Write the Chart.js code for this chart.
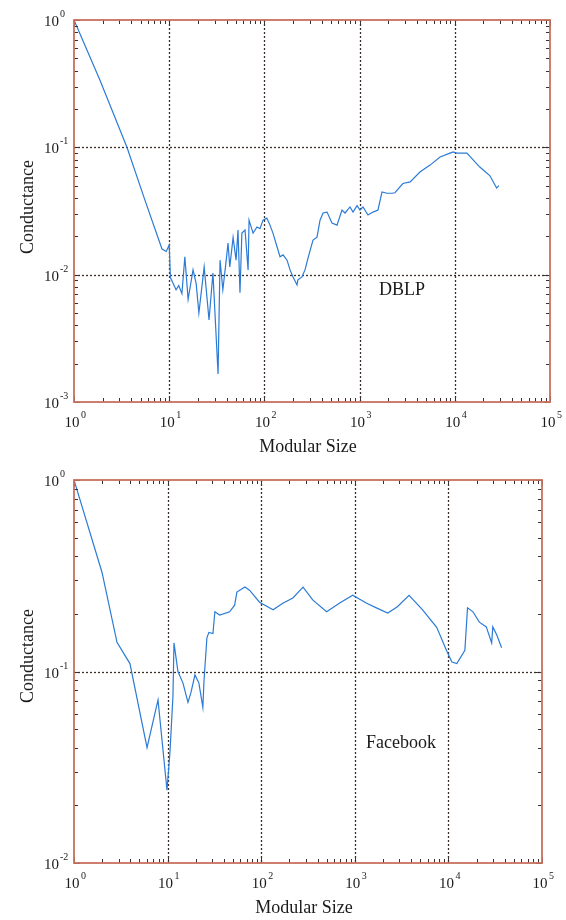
<!DOCTYPE html>
<html>
<head>
<meta charset="utf-8">
<script src="https://cdn.jsdelivr.net/npm/chart.js@4"></script>
<style>
html,body{margin:0;padding:0;background:#fff;}
#wrap{position:relative;width:566px;height:920px;}
.box{position:absolute;left:0;width:566px;height:460px;}
</style>
</head>
<body>
<div id="wrap">
<div class="box" style="top:0"><canvas id="c1" width="566" height="460"></canvas></div>
<div class="box" style="top:460px"><canvas id="c2" width="566" height="460"></canvas></div>
</div>
<script>
// ---- data ----
const dblpX = [
  1, 1.87, 3.6, 5.56, 8.4, 9.3, 10, 10.3, 11.8, 12.6,
  13.6, 14.6, 15.8, 17.8, 19.2, 20.5, 23.3, 26.2, 28.8, 32.6,
  34.2, 36.6, 39, 41.5, 43.3, 46.9, 50.4, 52.8, 55.4, 58,
  62.6, 67.4, 69, 76, 83.6, 89.8, 96.7, 106, 114.5, 123,
  136, 146, 157, 173, 186, 200, 220, 225, 248, 267,
  287, 324, 357, 384, 413, 455, 513, 579, 653, 703,
  793, 853, 940, 1010, 1086, 1225, 1383, 1560, 1718, 1940,
  2190, 2350, 2850, 3400, 4300, 5500, 7000, 8900, 9600, 10500,
  13400, 18300, 23300, 27500, 29000];
const dblpY = [
  1, 0.338, 0.1, 0.0385, 0.0159, 0.0152, 0.0171, 0.0095, 0.0076, 0.0082,
  0.0071, 0.0138, 0.0064, 0.0109, 0.0085, 0.005, 0.0115, 0.0044, 0.0103, 0.00166,
  0.013, 0.0076, 0.0115, 0.0177, 0.0115, 0.0196, 0.013, 0.0224, 0.0072, 0.0212,
  0.0224, 0.0109, 0.0268, 0.0212, 0.0237, 0.023, 0.0268, 0.0278, 0.0245, 0.0212,
  0.0165, 0.0138, 0.0143, 0.013, 0.0109, 0.0096, 0.0083, 0.0091, 0.0096, 0.0109,
  0.0135, 0.0187, 0.0197, 0.0268, 0.0305, 0.031, 0.0254, 0.0245, 0.0322, 0.0305,
  0.034, 0.031, 0.0348, 0.0322, 0.034, 0.0294, 0.031, 0.0322, 0.0446, 0.0436,
  0.0436, 0.044, 0.052, 0.0535, 0.064, 0.0725, 0.084, 0.09, 0.092, 0.09,
  0.09, 0.07, 0.06, 0.048, 0.05];

const fbX = [1, 1.99, 2.88, 3.96, 6.03, 7.9, 9.85, 10.6, 11.4, 11.7, 12.9, 14.6, 16.5, 17.8, 19.6, 21.6, 23.8, 24.5, 26.3, 27.6, 30.5, 32, 36, 46, 52, 55, 67, 75, 96, 134, 170, 218, 280, 357, 500, 690, 950, 1340, 1700, 2250, 2850, 3800, 5300, 7500, 9600, 10900, 12300, 15000, 16000, 18300, 21400, 25400, 29000, 29800, 32900, 37000];
const fbY = [1, 0.33, 0.142, 0.110, 0.040, 0.071, 0.024, 0.038, 0.074, 0.141, 0.10, 0.087, 0.069, 0.078, 0.096, 0.087, 0.065, 0.09, 0.15, 0.16, 0.158, 0.205, 0.197, 0.205, 0.222, 0.26, 0.276, 0.266, 0.23, 0.21, 0.227, 0.242, 0.276, 0.236, 0.205, 0.228, 0.25, 0.227, 0.215, 0.202, 0.218, 0.25, 0.21, 0.17, 0.128, 0.112, 0.110, 0.129, 0.215, 0.205, 0.181, 0.171, 0.141, 0.171, 0.155, 0.133];

const xDecades = [0, 1, 2, 3, 4, 5];
const dblpYDecades = [-3, -2, -1, 0];
const fbYDecades = [-2, -1, 0];
const xTitle = 'Modular Size';
const yTitle = 'Conductance';

const SERIF = '"Liberation Serif", "DejaVu Serif", serif';

function makePlugin(yDecs, label, labelPos, yTitleCenter) {
  return {
    id: 'frame',
    beforeDatasetsDraw(chart) {
      const {ctx, chartArea: a, scales: {x, y}} = chart;
      ctx.save();
      ctx.strokeStyle = '#3a2e28';
      ctx.lineWidth = 1.3;
      ctx.setLineDash([2, 2]);
      xDecades.slice(1, -1).forEach(d => {
        const px = Math.round(x.getPixelForValue(Math.pow(10, d))) + 0.5;
        ctx.beginPath(); ctx.moveTo(px, a.top); ctx.lineTo(px, a.bottom); ctx.stroke();
      });
      yDecs.slice(1, -1).forEach(d => {
        const py = Math.round(y.getPixelForValue(Math.pow(10, d))) + 0.5;
        ctx.beginPath(); ctx.moveTo(a.left, py); ctx.lineTo(a.right, py); ctx.stroke();
      });
      ctx.restore();
    },
    afterDraw(chart) {
      const {ctx, chartArea: a, scales: {x, y}} = chart;
      ctx.save();
      ctx.strokeStyle = '#3a3030';
      ctx.lineWidth = 1;
      for (let i = 0; i < xDecades.length; i++) {
        const d = xDecades[i];
        for (let m = 1; m <= 9; m++) {
          if (i === xDecades.length - 1 && m > 1) break;
          const px = Math.round(x.getPixelForValue(m * Math.pow(10, d))) + 0.5;
          const len = m === 1 ? 6 : 4;
          ctx.beginPath();
          ctx.moveTo(px, a.bottom); ctx.lineTo(px, a.bottom - len);
          ctx.moveTo(px, a.top); ctx.lineTo(px, a.top + len);
          ctx.stroke();
        }
      }
      for (let i = 0; i < yDecs.length; i++) {
        const d = yDecs[i];
        for (let m = 1; m <= 9; m++) {
          if (i === yDecs.length - 1 && m > 1) break;
          const py = Math.round(y.getPixelForValue(m * Math.pow(10, d))) + 0.5;
          const len = m === 1 ? 6 : 4;
          ctx.beginPath();
          ctx.moveTo(a.left, py); ctx.lineTo(a.left + len, py);
          ctx.moveTo(a.right, py); ctx.lineTo(a.right - len, py);
          ctx.stroke();
        }
      }
      ctx.strokeStyle = '#c8705c';
      ctx.lineWidth = 1.8;
      ctx.strokeRect(a.left, a.top, a.right - a.left, a.bottom - a.top);
      ctx.fillStyle = '#1a1a1a';
      xDecades.forEach(d => {
        const px = x.getPixelForValue(Math.pow(10, d));
        ctx.font = '15px ' + SERIF;
        ctx.textAlign = 'center';
        ctx.textBaseline = 'alphabetic';
        ctx.fillText('10', px - 2, a.bottom + 25);
        ctx.font = '10px ' + SERIF;
        ctx.textAlign = 'left';
        ctx.fillText(String(d), px + 7, a.bottom + 16);
      });
      yDecs.forEach(d => {
        const py = y.getPixelForValue(Math.pow(10, d));
        ctx.font = '15px ' + SERIF;
        ctx.textAlign = 'right';
        ctx.textBaseline = 'alphabetic';
        ctx.fillText('10', a.left - 15, py + 6);
        ctx.font = '10px ' + SERIF;
        ctx.textAlign = 'left';
        ctx.fillText(String(d), a.left - 14, py - 3);
      });
      ctx.font = '18px ' + SERIF;
      ctx.textAlign = 'center';
      ctx.textBaseline = 'alphabetic';
      ctx.fillText(xTitle, (a.left + a.right) / 2 - 4, a.bottom + 50);
      ctx.save();
      ctx.translate(33, yTitleCenter);
      ctx.rotate(-Math.PI / 2);
      ctx.fillText(yTitle, 0, 0);
      ctx.restore();
      ctx.font = '18px ' + SERIF;
      ctx.textAlign = 'center';
      ctx.fillText(label, labelPos[0], labelPos[1]);
      ctx.restore();
    }
  };
}

function build(id, xs, ys, yMin, yDecs, pad, label, labelPos, yTitleCenter) {
  const pts = xs.map((v, i) => ({x: v, y: ys[i]}));
  return new Chart(document.getElementById(id), {
    type: 'line',
    data: {datasets: [{data: pts, borderColor: '#2b7bd6', borderWidth: 1.2, pointRadius: 0, tension: 0, fill: false}]},
    options: {
      responsive: false,
      animation: false,
      layout: {padding: pad},
      plugins: {legend: {display: false}, tooltip: {enabled: false}},
      scales: {
        x: {type: 'logarithmic', min: 1, max: 100000, display: false},
        y: {type: 'logarithmic', min: yMin, max: 1, display: false}
      }
    },
    plugins: [makePlugin(yDecs, label, labelPos, yTitleCenter)]
  });
}

build('c1', dblpX, dblpY, 0.001, dblpYDecades, {left: 74, top: 20, right: 16, bottom: 58}, 'DBLP', [402, 295], 207);
build('c2', fbX, fbY, 0.01, fbYDecades, {left: 74, top: 20, right: 24, bottom: 57}, 'Facebook', [401, 288], 196);
</script>
</body>
</html>
